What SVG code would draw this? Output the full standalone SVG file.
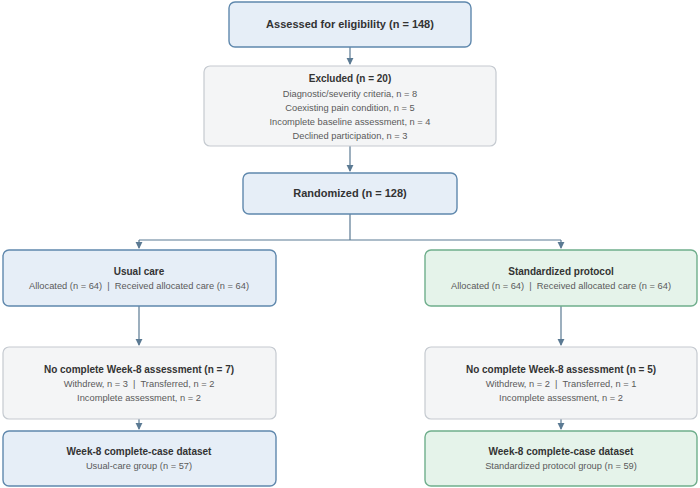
<svg xmlns="http://www.w3.org/2000/svg" width="700" height="488" viewBox="0 0 700 488">
<defs>
<marker id="ar" viewBox="0 0 8 8" refX="7" refY="4" markerWidth="6" markerHeight="6" orient="auto"><path d="M0,0 L8,4 L0,8 Z" fill="#5b7a93"/></marker>
<style>
.b{fill:#e6eef7;stroke:#5f88ad;stroke-width:1.4}
.g{fill:#f4f5f6;stroke:#c5cad0;stroke-width:1.2}
.gr{fill:#e5f3ea;stroke:#6fae8c;stroke-width:1.4}
text{font-family:"Liberation Sans",Arial,sans-serif;text-anchor:middle;fill:#5a5a5a;white-space:pre}
.t{font-weight:bold;fill:#333;font-size:10px}
.tl{font-weight:bold;fill:#333;font-size:11px}
.s{font-size:9.3px}
.c{fill:none;stroke:#5b7a93;stroke-width:1.2}
</style>
</defs>
<rect width="700" height="488" fill="#fff"/>
<g id="connectors">
<path class="c" d="M350,47 V64" marker-end="url(#ar)"/>
<path class="c" d="M350,146 V171" marker-end="url(#ar)"/>
<path class="c" d="M350,214 V240 M139,240 H561"/>
<path class="c" d="M139,240 V248" marker-end="url(#ar)"/>
<path class="c" d="M561,240 V248" marker-end="url(#ar)"/>
<path class="c" d="M139,306 V345" marker-end="url(#ar)"/>
<path class="c" d="M561,306 V345" marker-end="url(#ar)"/>
<path class="c" d="M139,419 V429" marker-end="url(#ar)"/>
<path class="c" d="M561,419 V429" marker-end="url(#ar)"/>
</g>
<g id="assessed"><rect class="b" x="229" y="2" width="242" height="45" rx="6"/><text class="tl" x="350" y="28">Assessed for eligibility (n = 148)</text></g>
<g id="excluded"><rect class="g" x="204" y="66" width="292" height="80" rx="6"/>
<text class="t" x="350" y="82">Excluded (n = 20)</text>
<text class="s" x="350" y="97">Diagnostic/severity criteria, n = 8</text>
<text class="s" x="350" y="111">Coexisting pain condition, n = 5</text>
<text class="s" x="350" y="125">Incomplete baseline assessment, n = 4</text>
<text class="s" x="350" y="139">Declined participation, n = 3</text></g>
<g id="randomized"><rect class="b" x="243" y="173" width="214" height="41" rx="6"/><text class="tl" x="350" y="197">Randomized (n = 128)</text></g>
<g id="usual"><rect class="b" x="3" y="250" width="273" height="56" rx="6"/><text class="t" x="139" y="275">Usual care</text><text class="s" x="139" y="289">Allocated (n = 64)  |  Received allocated care (n = 64)</text></g>
<g id="standard"><rect class="gr" x="425" y="250" width="272" height="56" rx="6"/><text class="t" x="561" y="275">Standardized protocol</text><text class="s" x="561" y="289">Allocated (n = 64)  |  Received allocated care (n = 64)</text></g>
<g id="lossL"><rect class="g" x="3" y="347" width="273" height="72" rx="6"/><text class="t" x="139" y="373">No complete Week-8 assessment (n = 7)</text><text class="s" x="139" y="387">Withdrew, n = 3  |  Transferred, n = 2</text><text class="s" x="139" y="401">Incomplete assessment, n = 2</text></g>
<g id="lossR"><rect class="g" x="425" y="347" width="272" height="72" rx="6"/><text class="t" x="561" y="373">No complete Week-8 assessment (n = 5)</text><text class="s" x="561" y="387">Withdrew, n = 2  |  Transferred, n = 1</text><text class="s" x="561" y="401">Incomplete assessment, n = 2</text></g>
<g id="finalL"><rect class="b" x="3" y="431" width="273" height="55" rx="6"/><text class="t" x="139" y="455">Week-8 complete-case dataset</text><text class="s" x="139" y="469">Usual-care group (n = 57)</text></g>
<g id="finalR"><rect class="gr" x="425" y="431" width="272" height="55" rx="6"/><text class="t" x="561" y="455">Week-8 complete-case dataset</text><text class="s" x="561" y="469">Standardized protocol group (n = 59)</text></g>
</svg>
